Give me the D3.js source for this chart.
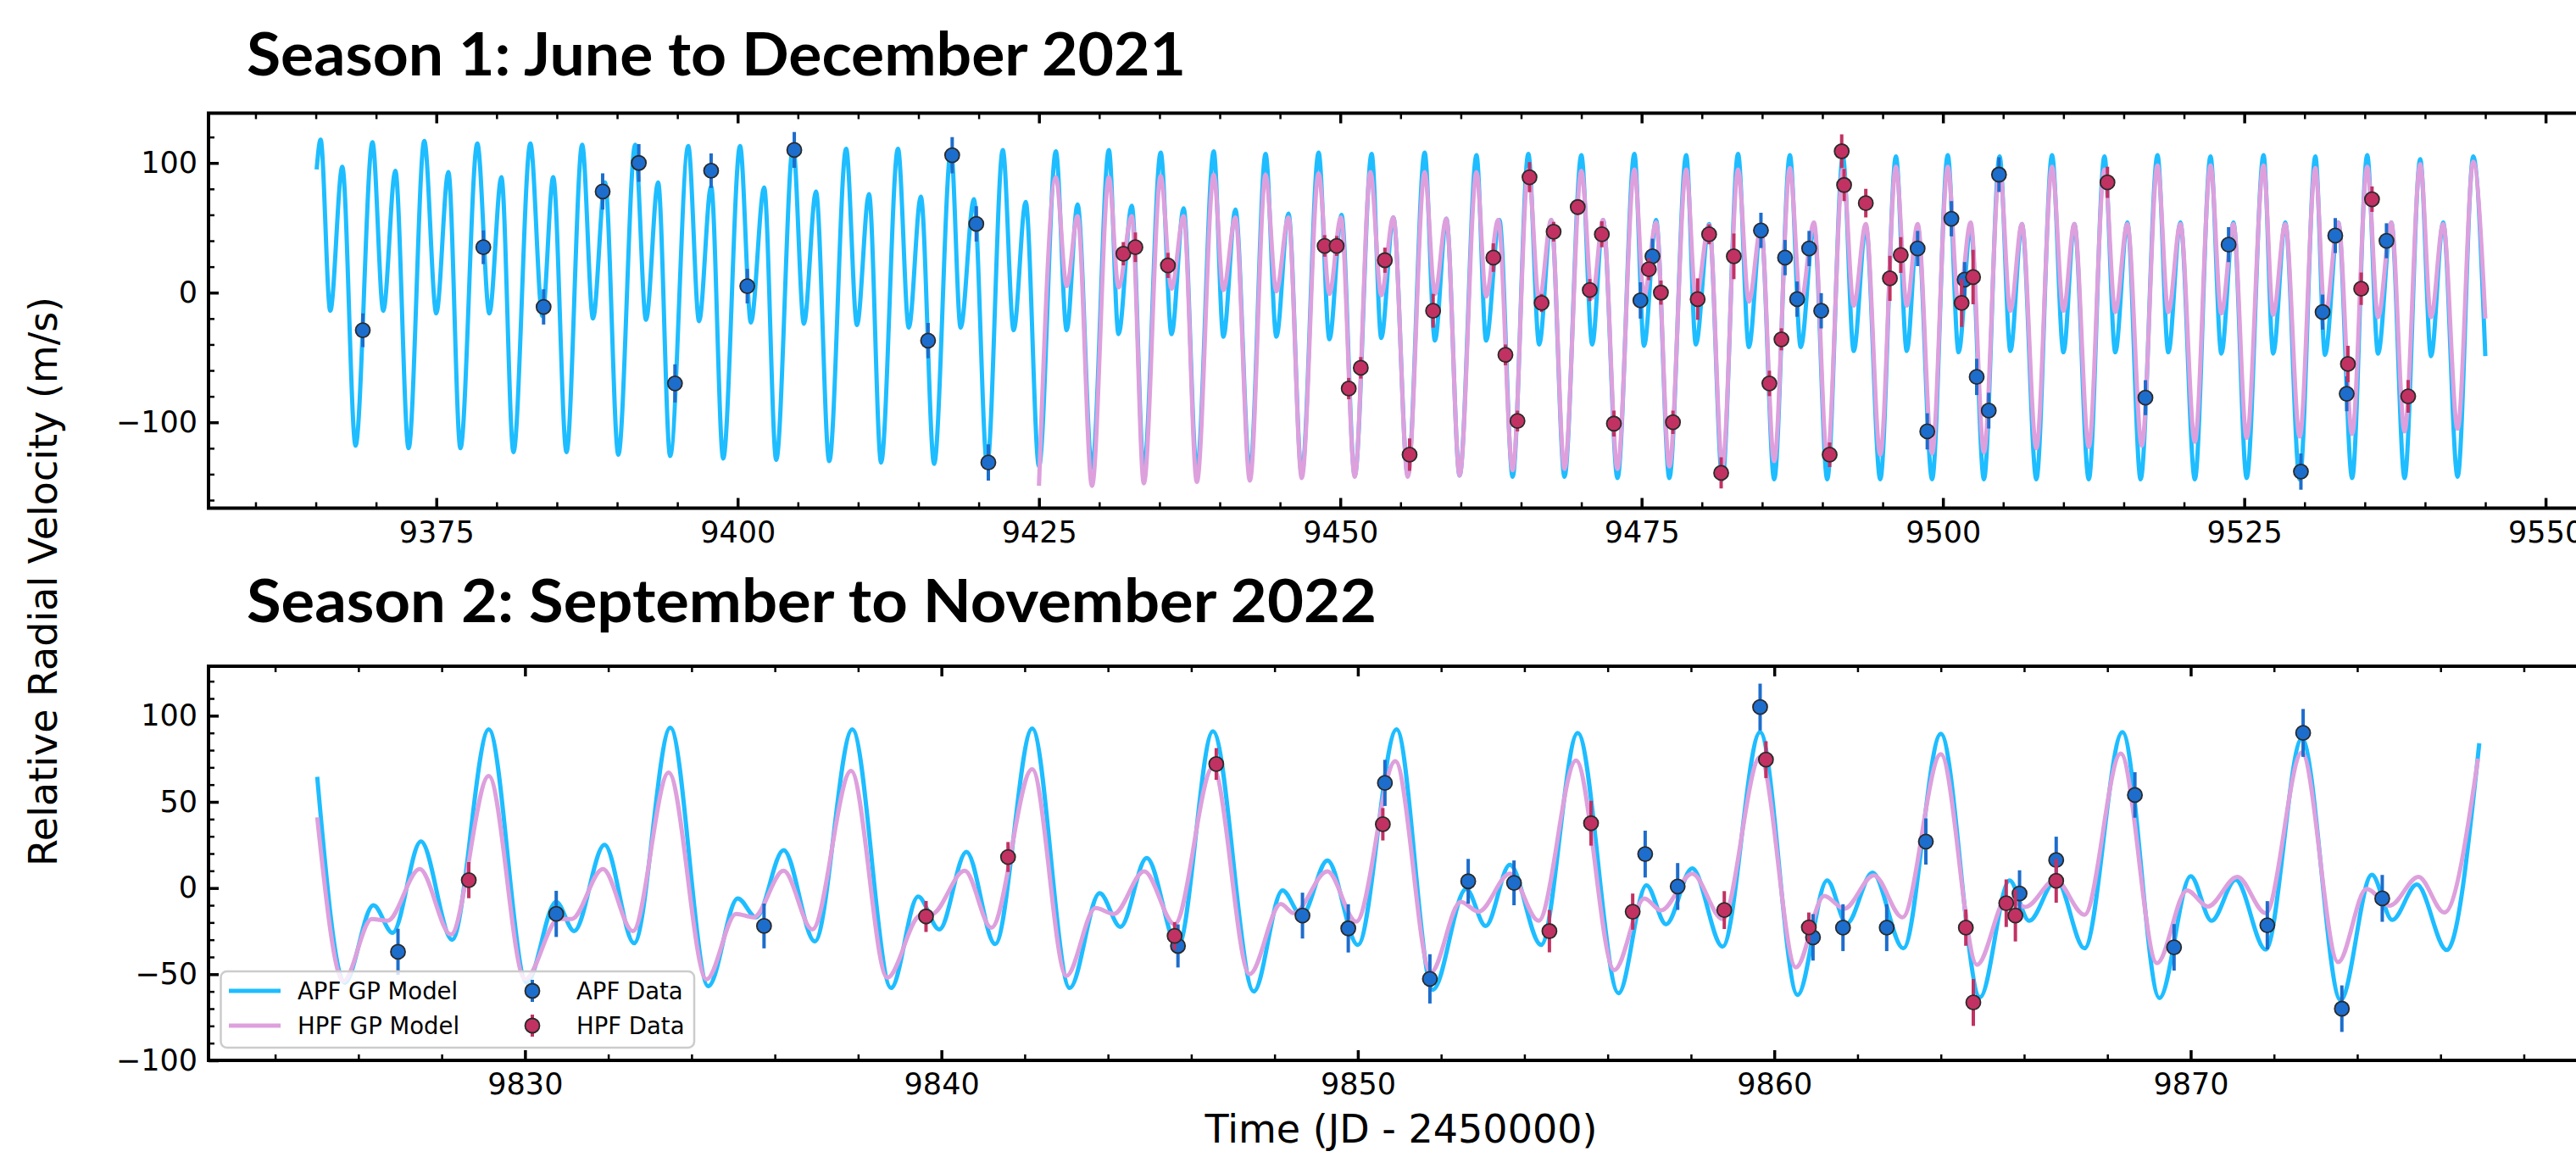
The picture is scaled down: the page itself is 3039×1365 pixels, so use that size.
<!DOCTYPE html>
<html><head><meta charset="utf-8">
<script src="https://cdn.jsdelivr.net/npm/d3@7"></script>
<style>html,body{margin:0;padding:0;background:#fff}svg{display:block}</style>
</head><body>
<svg id="chart" width="3039" height="1365"></svg>
<script>
// ---------------- DATA ----------------
const season1Title = "Season 1: June to December 2021";
const season2Title = "Season 2: September to November 2022";
const yAxisLabel = "Relative Radial Velocity (m/s)";
const xAxisLabel = "Time (JD - 2450000)";
const legendLabels = ["APF GP Model", "HPF GP Model", "APF Data", "HPF Data"];

const season1XTicks = [9375, 9400, 9425, 9450, 9475, 9500, 9525, 9550];
const season1YTicks = [-100, 0, 100];
const season2XTicks = [9830, 9840, 9850, 9860, 9870];
const season2YTicks = [-100, -50, 0, 50, 100];

// Season 1 GP model curves: [time, rv] at the turning points of the plotted curves
const apfModel1 = [[9365.07,95],[9365.4,118],[9366.2,-14],[9367.2,97],[9368.3,-118],[9369.7,116],[9370.6,-14],[9371.6,94],[9372.7,-120],[9374.0,117],[9375.0,-16],[9376.0,93],[9377.0,-120],[9378.4,115],[9379.4,-16],[9380.4,89],[9381.4,-123],[9382.8,115],[9383.8,-18],[9384.7,89],[9385.8,-123],[9387.1,114],[9388.0,-20],[9389.0,85],[9390.1,-125],[9391.5,114],[9392.4,-21],[9393.4,85],[9394.4,-126],[9395.9,113],[9396.8,-22],[9397.8,82],[9398.8,-128],[9400.2,113],[9401.1,-23],[9402.2,81],[9403.2,-129],[9404.6,113],
[9405.5,-24],[9406.5,78],[9407.6,-130],[9409.0,111],[9409.9,-25],[9410.9,76],[9411.9,-131],[9413.3,111],[9414.2,-27],[9415.2,74],[9416.3,-132],[9417.7,110],[9418.5,-27],[9419.6,72],[9420.7,-133],[9422.0,110],[9422.9,-29],[9423.9,70],[9425.0,-134],[9426.4,109],[9427.3,-29],[9428.2,68],[9429.4,-135],[9430.8,110],[9431.6,-32],[9432.7,67],[9433.7,-136],[9435.1,108],[9436.0,-32],[9437.0,65],[9438.1,-137],[9439.5,109],[9440.3,-34],[9441.3,64],[9442.5,-138],[9443.8,107],[9444.7,-34],[9445.7,61],[9446.8,-140],[9448.2,108],[9449.1,-36],[9450.1,60],[9451.2,-141],[9452.6,107],[9453.4,-35],[9454.4,58],
[9455.6,-141],[9457.0,108],[9457.85,-37],[9458.8,57],[9459.9,-141],[9461.3,106],[9462.1,-37],[9463.2,56],[9464.3,-142],[9465.6,107],[9466.5,-40],[9467.5,56],[9468.6,-142],[9470.0,106],[9470.9,-40],[9471.8,56],[9473.0,-143],[9474.4,107],[9475.2,-41],[9476.2,56],[9477.3,-143],[9478.7,106],[9479.5,-40],[9480.6,53],[9481.7,-144],[9483.0,107],[9483.9,-42],[9484.9,51],[9486.0,-144],[9487.3,106],[9488.2,-42],[9489.3,51],[9490.4,-144],[9491.7,105],[9492.6,-45],[9493.6,51],[9494.8,-144],[9496.1,105],[9497.0,-45],[9497.9,51],[9499.1,-144],[9500.4,106],[9501.3,-46],[9502.3,51],[9503.4,-144],[9504.7,105],
[9505.6,-45],[9506.55,53],[9507.75,-144],[9509.05,106],[9510.0,-46],[9510.9,53],[9512.1,-144],[9513.4,105],[9514.3,-46],[9515.3,54],[9516.4,-144],[9517.8,106],[9518.7,-46],[9519.7,54],[9520.9,-144],[9522.2,105],[9523.1,-47],[9524.1,54],[9525.2,-143],[9526.6,106],[9527.4,-47],[9528.4,54],[9529.6,-144],[9530.9,105],[9531.7,-48],[9532.8,54],[9533.95,-143],[9535.2,106],[9536.1,-47],[9537.2,54],[9538.3,-143],[9539.6,103],[9540.5,-49],[9541.5,54],[9542.7,-142],[9544.0,105],[9545.0,-49]];

const hpfModel1 = [[9425.0,-149],[9426.4,89],[9427.3,5],[9428.2,59],[9429.4,-149],[9430.8,89],[9431.6,4],[9432.7,59],[9433.7,-147],[9435.1,90],[9436.0,3],[9437.0,59],[9438.1,-146],[9439.5,91],[9440.3,2],[9441.3,58],[9442.5,-145],[9443.8,91],[9444.7,1],[9445.7,58],[9446.8,-143],[9448.2,92],[9449.1,-1],[9450.05,58],[9451.2,-142],[9452.5,93],[9453.4,-2],[9454.4,58],
[9455.6,-142],[9457.0,93],[9457.85,-1],[9458.8,57],[9459.9,-141],[9461.3,93],[9462.1,-3],[9463.1,56],[9464.3,-137],[9465.6,95],[9466.5,-7],[9467.5,56],[9468.6,-136],[9470.0,94],[9470.9,-4],[9471.8,56],[9473.0,-136],[9474.4,95],[9475.2,-3],[9476.2,54],[9477.3,-134],[9478.7,95],[9479.5,-5],[9480.6,52],[9481.7,-134],[9483.0,95],[9483.9,-7],[9484.9,50],[9486.0,-130],[9487.3,96],[9488.2,-8],[9489.3,54],[9490.4,-129],[9491.7,95],[9492.6,-10],[9493.6,53],[9494.8,-125],[9496.1,97],[9497.0,-10],[9497.9,53],[9499.1,-124],[9500.4,97],[9501.3,-10],[9502.3,54],[9503.4,-123],[9504.7,95],
[9505.6,-14],[9506.55,53],[9507.75,-120],[9509.05,97],[9510.0,-14],[9510.9,53],[9512.1,-119],[9513.4,95],[9514.3,-15],[9515.3,53],[9516.5,-118],[9517.8,98],[9518.7,-15],[9519.7,53],[9520.9,-115],[9522.2,98],[9523.1,-16],[9524.1,53],[9525.2,-112],[9526.6,98],[9527.4,-17],[9528.4,53],[9529.6,-111],[9530.9,96],[9531.7,-19],[9532.8,54],[9533.95,-109],[9535.2,97],[9536.1,-19],[9537.2,54],[9538.3,-107],[9539.6,99],[9540.5,-19],[9541.5,53],[9542.7,-105],[9544.0,101],[9545.0,-20]];

// Season 1 data: [time, rv, error]
const apfData1 = [[9368.9,-29,13],[9378.9,35,13],[9383.9,-11,13.6],[9388.8,78,14],[9391.8,100,14.5],[9394.8,-70,14.7],[9397.8,94,13.3],[9400.8,5,13.3],[9404.7,110,13.8],[9415.8,-37,13.6],[9417.8,106,14],[9419.8,53,13.6],[9420.8,-131,14],[9474.9,-6,14],[9475.9,28,13.6],[9484.9,48,13.6],[9486.9,27,13.6],[9487.9,-5,13.6],[9488.9,34,13.6],[9489.9,-14,13.6],[9497.9,34,13.6],[9498.7,-107,14],[9500.7,57,13.6],[9501.8,10,13.6],[9502.8,-65,14],[9503.8,-91,13.8],[9504.65,91,13.4],[9516.8,-81,13.5],[9523.7,37,13.5],[9529.7,-138,14],[9531.5,-15,13.5],[9532.55,44,13.5],[9533.5,-78,13.5],[9536.8,40,13.5]];
const hpfData1 = [[9432.0,30,9],[9433.0,35,11.4],[9435.7,21,9.7],[9448.7,36,8.3],[9449.7,36,7.7],[9450.7,-74,8.2],[9451.7,-58,8.3],[9453.7,25,9.7],[9455.75,-125,12.5],[9457.7,-14,13],[9462.7,27,11],[9463.7,-48,8],[9464.7,-99,8],[9465.7,89,11.6],[9466.7,-8,7],[9467.7,47,7.6],[9469.7,66,6],[9470.7,2,8.5],[9471.7,45,10],[9472.7,-101,10],[9475.6,18,8.4],[9476.6,0,9.3],[9477.6,-100,9],[9479.65,-5,16],[9480.6,45,7.7],[9481.6,-139,12],[9482.65,28,17.6],[9485.6,-70,9.8],[9486.6,-36,8.5],[9490.6,-125,9.5],[9491.6,109,13],[9491.8,83,12.4],[9493.6,69,11],[9495.6,11,17.4],[9496.5,29,13.8],[9501.55,-8,18.5],[9502.5,12,21],[9513.65,85,12],[9533.6,-55,14],[9534.7,3,12.5],[9535.6,72,9.8],[9538.6,-80,12.6]];

// Season 2 GP model curves
const apfModel2 = [[9825.01,64.5],[9825.67,-55],[9826.36,-10],[9826.82,-26],[9827.5,27],[9828.25,-30],[9829.13,92],[9830.04,-55],[9830.75,-8],[9831.18,-25],[9831.91,25],[9832.62,-32],[9833.49,93],[9834.4,-57],[9835.11,-6],[9835.55,-17],[9836.21,22],[9836.96,-31],[9837.86,92],[9838.79,-58],[9839.44,-5],[9839.95,-24],[9840.6,21],[9841.29,-32.5],[9842.18,92.6],[9843.08,-58],[9843.8,-3],[9844.3,-22.5],[9844.93,17.4],[9845.68,-34],[9846.52,91],[9847.5,-60],[9848.19,-1.4],[9848.65,-16],[9849.27,16],[9850.0,-33],[9850.93,92],[9851.8,-59],[9852.6,-0.5],[9853.07,-22],[9853.65,13.5],[9854.4,-33],[9855.28,90],[9856.26,-61],[9856.93,1.6],[9857.4,-21],[9858.03,11.4],[9858.76,-34],[9859.66,90.5],[9860.56,-62],[9861.27,4.4],[9861.74,-20.7],[9862.36,9],[9863.1,-35],[9864.0,89.5],[9864.94,-63.4],[9865.65,4.4],[9866.12,-19],[9866.77,5],[9867.45,-35],[9868.36,90.5],[9869.25,-63.8],[9870.0,6.9],[9870.5,-19],[9871.08,4.7],[9871.8,-35.7],[9872.67,86.8],[9873.6,-65],[9874.35,7.7],[9874.84,-18.5],[9875.43,2],[9876.15,-36],[9876.93,84]];
const hpfModel2 = [[9825.01,41],[9825.64,-54],[9826.32,-18],[9826.7,-19],[9827.47,11],[9828.22,-27],[9829.13,65],[9830.0,-53],[9830.81,-18],[9831.12,-18],[9831.87,11],[9832.59,-25],[9833.45,67],[9834.36,-53],[9835.07,-15],[9835.49,-17],[9836.21,10],[9836.9,-24],[9837.83,68],[9838.7,-52],[9839.48,-16],[9839.79,-15],[9840.56,10],[9841.2,-23],[9842.18,69],[9843.0,-51],[9843.7,-11.6],[9844.14,-15],[9844.87,9.7],[9845.6,-21],[9846.52,70],[9847.4,-50],[9848.15,-9.3],[9848.46,-14.6],[9849.27,9.7],[9849.96,-19.5],[9850.9,73.6],[9851.75,-49],[9852.47,-8],[9852.9,-13.7],[9853.65,8.3],[9854.34,-19],[9855.24,74],[9856.16,-47.6],[9856.88,-6],[9857.28,-13],[9858.03,8.3],[9858.76,-18],[9859.66,76],[9860.52,-46],[9861.2,-4.6],[9861.68,-12],[9862.39,7.4],[9863.08,-17],[9864.0,77.7],[9864.87,-44.5],[9865.59,-5.8],[9866.03,-11],[9866.75,4.7],[9867.45,-15.5],[9868.32,78],[9869.19,-43.6],[9869.91,-1.4],[9870.41,-10.7],[9871.12,6.5],[9871.8,-14.6],[9872.67,78.6],[9873.54,-43],[9874.22,-0.5],[9874.78,-10.2],[9875.47,6.5],[9876.09,-14.2],[9876.9,75]];

// Season 2 data: [time, rv, error]
const apfData2 = [[9826.95,-37,13.4],[9830.75,-15,13.4],[9835.74,-22,13],[9845.68,-33.6,12.5],[9848.67,-16,13.3],[9849.77,-23.4,14],[9850.65,61,13.4],[9851.73,-52.7,14.3],[9852.65,3.9,13],[9853.75,3,13],[9856.9,19.7,13.6],[9857.68,0.9,13.6],[9859.66,105,13.6],[9860.93,-28.6,13.5],[9861.65,-23,13.6],[9862.7,-23,13.6],[9863.64,27,13.4],[9865.89,-3.2,13.5],[9866.77,16.3,13.5],[9868.66,54,13.2],[9869.6,-34.4,13.5],[9871.84,-21.6,14],[9872.7,90,13.9],[9873.63,-70,13.5],[9874.6,-6,13.6]];
const hpfData2 = [[9828.65,4.6,10.5],[9839.63,-16.5,9],[9841.6,18,8.7],[9845.6,-27.8,8],[9846.6,72,9.2],[9850.6,37,9.4],[9854.6,-25,12.3],[9855.6,37.6,13],[9856.6,-13.7,10.5],[9858.8,-12.8,11],[9859.8,74.5,10.7],[9860.83,-22.8,8.6],[9864.6,-23,10.5],[9864.78,-66.4,13.6],[9865.57,-8.8,13.8],[9865.79,-16,15],[9866.77,4.2,12.7]];

// ---------------- STYLE / LAYOUT ----------------
const FONT = "'DejaVu Sans', sans-serif";
const TITLE_FONT = "Lato, 'Open Sans', sans-serif";
const C_APF_LINE = "#1ebdff", C_HPF_LINE = "#dda0dd";
const C_APF_PT = "#1d6dcc", C_HPF_PT = "#c13263";
const LINE_W = 5, PT_R = 8.5, ERR_W = 4;

const svg = d3.select("#chart");
svg.append("rect").attr("width", 3039).attr("height", 1365).attr("fill", "#fff");

function panel(o) {
  const x = d3.scaleLinear().domain(o.xDomain).range([o.left, o.right]);
  const y = d3.scaleLinear().domain(o.yDomain).range([o.bottom, o.top]);
  const g = svg.append("g");
  const clipId = "clip-" + o.id;
  svg.append("defs").append("clipPath").attr("id", clipId)
    .append("rect").attr("x", o.left).attr("y", o.top)
    .attr("width", o.right - o.left).attr("height", o.bottom - o.top);
  const plot = g.append("g").attr("clip-path", `url(#${clipId})`);
  const line = d3.line().x(d => x(d[0])).y(d => y(d[1])).curve(d3.curveMonotoneX);

  plot.append("path").datum(o.apfModel).attr("d", line)
    .attr("fill", "none").attr("stroke", C_APF_LINE).attr("stroke-width", LINE_W).attr("stroke-linejoin", "round");
  plot.append("path").datum(o.hpfModel).attr("d", line)
    .attr("fill", "none").attr("stroke", C_HPF_LINE).attr("stroke-width", LINE_W).attr("stroke-linejoin", "round");

  function points(data, col) {
    const pg = plot.append("g");
    pg.selectAll("line.err").data(data).join("line").attr("class", "err")
      .attr("x1", d => x(d[0])).attr("x2", d => x(d[0]))
      .attr("y1", d => y(d[1] - d[2])).attr("y2", d => y(d[1] + d[2]))
      .attr("stroke", col).attr("stroke-width", ERR_W);
    pg.selectAll("circle").data(data).join("circle")
      .attr("cx", d => x(d[0])).attr("cy", d => y(d[1])).attr("r", PT_R)
      .attr("fill", col).attr("stroke", "#2a2a2a").attr("stroke-width", 1.8);
  }
  points(o.apfData, C_APF_PT);
  points(o.hpfData, C_HPF_PT);

  // axes (inward ticks on all sides)
  const minor = (dom, step, majors) => d3.range(Math.ceil(dom[0] / step) * step, dom[1] + 1e-9, step)
    .filter(v => !majors.some(m => Math.abs(m - v) < 1e-9));
  const xMin = minor(o.xDomain, o.xMinorStep, o.xTicks);
  const yMin = minor(o.yDomain, o.yMinorStep, o.yTicks);
  const styleAxis = (sel, w) => {
    sel.select(".domain").remove();
    sel.selectAll(".tick line").attr("stroke", "#000").attr("stroke-width", w);
    sel.selectAll(".tick text").attr("fill", "#000").attr("font-family", FONT).attr("font-size", 35);
  };
  const ax = g.append("g");
  ax.append("g").attr("transform", `translate(0,${o.bottom})`)
    .call(d3.axisBottom(x).tickValues(o.xTicks).tickSizeInner(-12).tickSizeOuter(0).tickPadding(15.5).tickFormat(d3.format("d")))
    .call(s => styleAxis(s, 3.5));
  ax.append("g").attr("transform", `translate(0,${o.bottom})`)
    .call(d3.axisBottom(x).tickValues(xMin).tickSizeInner(-7).tickSizeOuter(0).tickFormat(""))
    .call(s => styleAxis(s, 2.5));
  ax.append("g").attr("transform", `translate(0,${o.top})`)
    .call(d3.axisTop(x).tickValues(o.xTicks).tickSizeInner(-12).tickSizeOuter(0).tickFormat(""))
    .call(s => styleAxis(s, 3.5));
  ax.append("g").attr("transform", `translate(0,${o.top})`)
    .call(d3.axisTop(x).tickValues(xMin).tickSizeInner(-7).tickSizeOuter(0).tickFormat(""))
    .call(s => styleAxis(s, 2.5));
  ax.append("g").attr("transform", `translate(${o.left},0)`)
    .call(d3.axisLeft(y).tickValues(o.yTicks).tickSizeInner(-12).tickSizeOuter(0).tickPadding(13).tickFormat(d3.format("d")))
    .call(s => styleAxis(s, 3.5));
  ax.append("g").attr("transform", `translate(${o.left},0)`)
    .call(d3.axisLeft(y).tickValues(yMin).tickSizeInner(-7).tickSizeOuter(0).tickFormat(""))
    .call(s => styleAxis(s, 2.5));
  ax.append("g").attr("transform", `translate(${o.right},0)`)
    .call(d3.axisRight(y).tickValues(o.yTicks).tickSizeInner(-12).tickSizeOuter(0).tickFormat(""))
    .call(s => styleAxis(s, 3.5));
  ax.append("g").attr("transform", `translate(${o.right},0)`)
    .call(d3.axisRight(y).tickValues(yMin).tickSizeInner(-7).tickSizeOuter(0).tickFormat(""))
    .call(s => styleAxis(s, 2.5));
  ax.append("rect").attr("x", o.left).attr("y", o.top)
    .attr("width", o.right - o.left).attr("height", o.bottom - o.top)
    .attr("fill", "none").attr("stroke", "#000").attr("stroke-width", 4);

  // panel title
  svg.append("text").attr("x", o.titleX).attr("y", o.titleY)
    .attr("font-family", TITLE_FONT).attr("font-weight", 700).attr("font-size", 71)
    .attr("textLength", o.titleLen).attr("lengthAdjust", "spacingAndGlyphs")
    .attr("fill", "#000").text(o.title);
  return {x, y, g};
}

panel({
  id: "s1", left: 246, right: 3060, top: 133.5, bottom: 599.5,
  xDomain: [9356.1, 9554.0], yDomain: [-166.2, 138.4],
  xTicks: season1XTicks, xMinorStep: 5, yTicks: season1YTicks, yMinorStep: 20,
  apfModel: apfModel1, hpfModel: hpfModel1, apfData: apfData1, hpfData: hpfData1,
  title: season1Title, titleX: 291, titleY: 89, titleLen: 1108
});
panel({
  id: "s2", left: 246, right: 3060, top: 786, bottom: 1251,
  xDomain: [9822.4, 9879.68], yDomain: [-100, 128.7],
  xTicks: season2XTicks, xMinorStep: 2, yTicks: season2YTicks, yMinorStep: 10,
  apfModel: apfModel2, hpfModel: hpfModel2, apfData: apfData2, hpfData: hpfData2,
  title: season2Title, titleX: 291, titleY: 734, titleLen: 1333
});

// shared axis labels
svg.append("text").attr("transform", "translate(67,686) rotate(-90)")
  .attr("text-anchor", "middle").attr("font-family", FONT).attr("font-size", 46)
  .attr("fill", "#000").text(yAxisLabel);
svg.append("text").attr("x", 1653).attr("y", 1348)
  .attr("text-anchor", "middle").attr("font-family", FONT).attr("font-size", 46)
  .attr("fill", "#000").text(xAxisLabel);

// legend
const lg = svg.append("g");
lg.append("rect").attr("x", 260.5).attr("y", 1146).attr("width", 558.5).attr("height", 90)
  .attr("rx", 7).attr("fill", "#fff").attr("fill-opacity", 0.8)
  .attr("stroke", "#cccccc").attr("stroke-width", 2.5);
const rows = [1169, 1210];
[C_APF_LINE, C_HPF_LINE].forEach((c, i) => {
  lg.append("line").attr("x1", 270).attr("x2", 331).attr("y1", rows[i]).attr("y2", rows[i])
    .attr("stroke", c).attr("stroke-width", LINE_W);
  lg.append("text").attr("x", 351).attr("y", rows[i]).attr("dy", "0.36em")
    .attr("font-family", FONT).attr("font-size", 27.5).attr("fill", "#000").text(legendLabels[i]);
});
[C_APF_PT, C_HPF_PT].forEach((c, i) => {
  lg.append("line").attr("x1", 628).attr("x2", 628).attr("y1", rows[i] - 13).attr("y2", rows[i] + 13)
    .attr("stroke", c).attr("stroke-width", ERR_W);
  lg.append("circle").attr("cx", 628).attr("cy", rows[i]).attr("r", PT_R)
    .attr("fill", c).attr("stroke", "#2a2a2a").attr("stroke-width", 1.8);
  lg.append("text").attr("x", 680).attr("y", rows[i]).attr("dy", "0.36em")
    .attr("font-family", FONT).attr("font-size", 27.5).attr("fill", "#000").text(legendLabels[2 + i]);
});
</script>
</body></html>
